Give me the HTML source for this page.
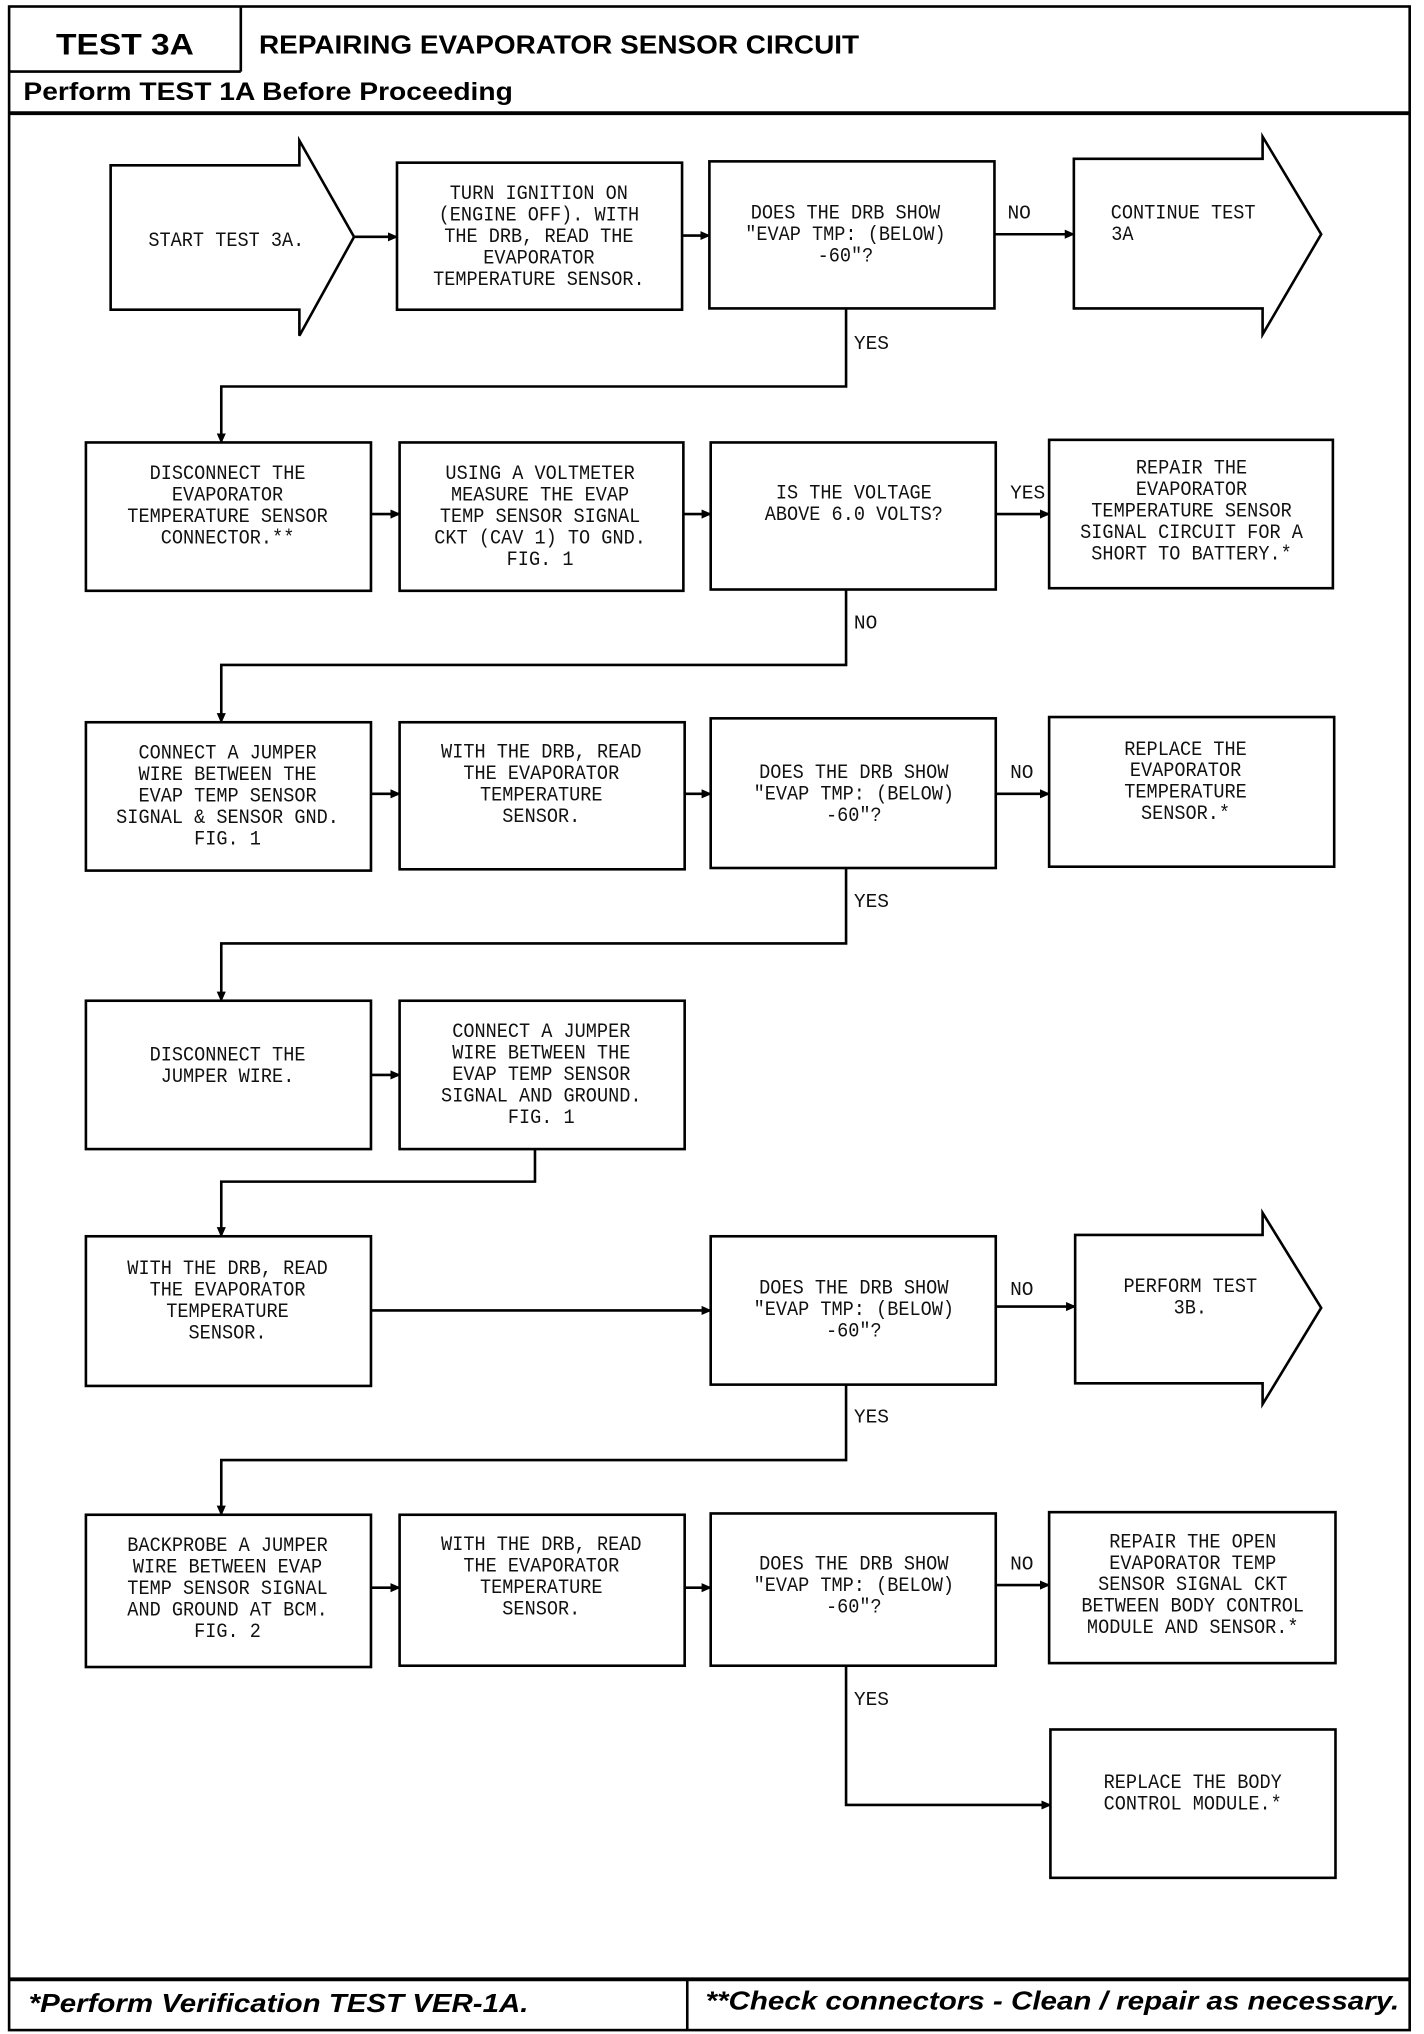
<!DOCTYPE html>
<html><head><meta charset="utf-8"><style>
html,body{margin:0;padding:0;background:#fff;}
svg{display:block;}
.t{font-family:"Liberation Mono",monospace;font-size:15.5px;fill:#111;text-anchor:middle;}
.l{font-family:"Liberation Mono",monospace;font-size:15px;fill:#111;}
.h{font-family:"Liberation Sans",sans-serif;font-weight:bold;fill:#000;}
</style></head><body>
<svg width="1424" height="2034" viewBox="0 0 1094 1563" preserveAspectRatio="none" xmlns="http://www.w3.org/2000/svg">
<defs><marker id="a" markerWidth="8" markerHeight="8" refX="7" refY="4" orient="auto" markerUnits="userSpaceOnUse"><path d="M0,0.5 L8,4 L0,7.5 z" fill="#000"/></marker></defs>
<g fill="none" stroke="#000" stroke-width="2">
<rect x="7" y="5" width="1076" height="1555"/>
<line x1="185" y1="5" x2="185" y2="55"/>
<line x1="7" y1="55" x2="185" y2="55"/>
<line x1="7" y1="87" x2="1083" y2="87" stroke-width="3"/>
<line x1="7" y1="1521" x2="1083" y2="1521" stroke-width="3"/>
<line x1="528" y1="1521" x2="528" y2="1560"/>
<path d="M85,127 H230 V108 L272,182 L230,258 V238 H85 Z"/>
<rect x="305" y="125" width="219" height="113"/>
<rect x="545" y="124" width="219" height="113"/>
<path d="M825,122 H970 V105 L1015,180 L970,257 V237 H825 Z"/>
<rect x="66" y="340" width="219" height="114"/>
<rect x="307" y="340" width="218" height="114"/>
<rect x="546" y="340" width="219" height="113"/>
<rect x="806" y="338" width="218" height="114"/>
<rect x="66" y="555" width="219" height="114"/>
<rect x="307" y="555" width="219" height="113"/>
<rect x="546" y="552" width="219" height="115"/>
<rect x="806" y="551" width="219" height="115"/>
<rect x="66" y="769" width="219" height="114"/>
<rect x="307" y="769" width="219" height="114"/>
<rect x="66" y="950" width="219" height="115"/>
<rect x="546" y="950" width="219" height="114"/>
<path d="M826,949 H970 V932 L1015,1005 L970,1079 V1063 H826 Z"/>
<rect x="66" y="1164" width="219" height="117"/>
<rect x="307" y="1164" width="219" height="116"/>
<rect x="546" y="1163" width="219" height="117"/>
<rect x="806" y="1162" width="220" height="116"/>
<rect x="807" y="1329" width="219" height="114"/>
</g>
<g fill="none" stroke="#000" stroke-width="2" marker-end="url(#a)">
<line x1="272" y1="182" x2="305" y2="182"/>
<line x1="524" y1="181" x2="545" y2="181"/>
<line x1="764" y1="180" x2="825" y2="180"/>
<polyline points="650,237 650,297 170,297 170,340"/>
<line x1="285" y1="395" x2="307" y2="395"/>
<line x1="525" y1="395" x2="546" y2="395"/>
<line x1="765" y1="395" x2="806" y2="395"/>
<polyline points="650,453 650,511 170,511 170,555"/>
<line x1="285" y1="610" x2="307" y2="610"/>
<line x1="526" y1="610" x2="546" y2="610"/>
<line x1="765" y1="610" x2="806" y2="610"/>
<polyline points="650,667 650,725 170,725 170,769"/>
<line x1="285" y1="826" x2="307" y2="826"/>
<polyline points="411,883 411,908 170,908 170,950"/>
<line x1="285" y1="1007" x2="546" y2="1007"/>
<line x1="765" y1="1004" x2="826" y2="1004"/>
<polyline points="650,1064 650,1122 170,1122 170,1164"/>
<line x1="285" y1="1220" x2="307" y2="1220"/>
<line x1="526" y1="1220" x2="546" y2="1220"/>
<line x1="765" y1="1218" x2="806" y2="1218"/>
<polyline points="650,1280 650,1387 807,1387"/>
</g>
<text class="h" x="43" y="42" font-size="23" textLength="106" lengthAdjust="spacingAndGlyphs">TEST 3A</text>
<text class="h" x="199" y="41" font-size="20" textLength="461" lengthAdjust="spacingAndGlyphs">REPAIRING EVAPORATOR SENSOR CIRCUIT</text>
<text class="h" x="18" y="77" font-size="19" textLength="376" lengthAdjust="spacingAndGlyphs">Perform TEST 1A Before Proceeding</text>
<text class="h" x="22" y="1546" font-size="20" font-style="italic" textLength="384" lengthAdjust="spacingAndGlyphs">*Perform Verification TEST VER-1A.</text>
<text class="h" x="542" y="1544" font-size="20" font-style="italic" textLength="533" lengthAdjust="spacingAndGlyphs">**Check connectors - Clean / repair as necessary.</text>
<g class="l">
<text x="774" y="168">NO</text>
<text x="656" y="268">YES</text>
<text x="776" y="383">YES</text>
<text x="656" y="483">NO</text>
<text x="776" y="598">NO</text>
<text x="656" y="697">YES</text>
<text x="776" y="995">NO</text>
<text x="656" y="1093">YES</text>
<text x="776" y="1206">NO</text>
<text x="656" y="1310">YES</text>
</g>
<g class="t" transform="scale(0.92,1)">
<text x="189" y="189">START TEST 3A.</text>
<text x="450" y="153"><tspan x="450">TURN IGNITION ON</tspan><tspan x="450" dy="16.5">(ENGINE OFF). WITH</tspan><tspan x="450" dy="16.5">THE DRB, READ THE</tspan><tspan x="450" dy="16.5">EVAPORATOR</tspan><tspan x="450" dy="16.5">TEMPERATURE SENSOR.</tspan></text>
<text x="706" y="168"><tspan x="706">DOES THE DRB SHOW</tspan><tspan x="706" dy="16.5">"EVAP TMP: (BELOW)</tspan><tspan x="706" dy="16.5">-60"?</tspan></text>
<text x="988" y="168"><tspan x="988">CONTINUE TEST</tspan><tspan x="928" dy="16.5" text-anchor="start">3A</tspan></text>
<text x="190" y="368"><tspan x="190">DISCONNECT THE</tspan><tspan x="190" dy="16.5">EVAPORATOR</tspan><tspan x="190" dy="16.5">TEMPERATURE SENSOR</tspan><tspan x="190" dy="16.5">CONNECTOR.**</tspan></text>
<text x="451" y="368"><tspan x="451">USING A VOLTMETER</tspan><tspan x="451" dy="16.5">MEASURE THE EVAP</tspan><tspan x="451" dy="16.5">TEMP SENSOR SIGNAL</tspan><tspan x="451" dy="16.5">CKT (CAV 1) TO GND.</tspan><tspan x="451" dy="16.5">FIG. 1</tspan></text>
<text x="713" y="383"><tspan x="713">IS THE VOLTAGE</tspan><tspan x="713" dy="16.5">ABOVE 6.0 VOLTS?</tspan></text>
<text x="995" y="364"><tspan x="995">REPAIR THE</tspan><tspan x="995" dy="16.5">EVAPORATOR</tspan><tspan x="995" dy="16.5">TEMPERATURE SENSOR</tspan><tspan x="995" dy="16.5">SIGNAL CIRCUIT FOR A</tspan><tspan x="995" dy="16.5">SHORT TO BATTERY.*</tspan></text>
<text x="190" y="583"><tspan x="190">CONNECT A JUMPER</tspan><tspan x="190" dy="16.5">WIRE BETWEEN THE</tspan><tspan x="190" dy="16.5">EVAP TEMP SENSOR</tspan><tspan x="190" dy="16.5">SIGNAL &amp; SENSOR GND.</tspan><tspan x="190" dy="16.5">FIG. 1</tspan></text>
<text x="452" y="582"><tspan x="452">WITH THE DRB, READ</tspan><tspan x="452" dy="16.5">THE EVAPORATOR</tspan><tspan x="452" dy="16.5">TEMPERATURE</tspan><tspan x="452" dy="16.5">SENSOR.</tspan></text>
<text x="713" y="598"><tspan x="713">DOES THE DRB SHOW</tspan><tspan x="713" dy="16.5">"EVAP TMP: (BELOW)</tspan><tspan x="713" dy="16.5">-60"?</tspan></text>
<text x="990" y="580"><tspan x="990">REPLACE THE</tspan><tspan x="990" dy="16.5">EVAPORATOR</tspan><tspan x="990" dy="16.5">TEMPERATURE</tspan><tspan x="990" dy="16.5">SENSOR.*</tspan></text>
<text x="190" y="815"><tspan x="190">DISCONNECT THE</tspan><tspan x="190" dy="16.5">JUMPER WIRE.</tspan></text>
<text x="452" y="797"><tspan x="452">CONNECT A JUMPER</tspan><tspan x="452" dy="16.5">WIRE BETWEEN THE</tspan><tspan x="452" dy="16.5">EVAP TEMP SENSOR</tspan><tspan x="452" dy="16.5">SIGNAL AND GROUND.</tspan><tspan x="452" dy="16.5">FIG. 1</tspan></text>
<text x="190" y="979"><tspan x="190">WITH THE DRB, READ</tspan><tspan x="190" dy="16.5">THE EVAPORATOR</tspan><tspan x="190" dy="16.5">TEMPERATURE</tspan><tspan x="190" dy="16.5">SENSOR.</tspan></text>
<text x="713" y="994"><tspan x="713">DOES THE DRB SHOW</tspan><tspan x="713" dy="16.5">"EVAP TMP: (BELOW)</tspan><tspan x="713" dy="16.5">-60"?</tspan></text>
<text x="994" y="993"><tspan x="994">PERFORM TEST</tspan><tspan x="994" dy="16.5">3B.</tspan></text>
<text x="190" y="1192"><tspan x="190">BACKPROBE A JUMPER</tspan><tspan x="190" dy="16.5">WIRE BETWEEN EVAP</tspan><tspan x="190" dy="16.5">TEMP SENSOR SIGNAL</tspan><tspan x="190" dy="16.5">AND GROUND AT BCM.</tspan><tspan x="190" dy="16.5">FIG. 2</tspan></text>
<text x="452" y="1191"><tspan x="452">WITH THE DRB, READ</tspan><tspan x="452" dy="16.5">THE EVAPORATOR</tspan><tspan x="452" dy="16.5">TEMPERATURE</tspan><tspan x="452" dy="16.5">SENSOR.</tspan></text>
<text x="713" y="1206"><tspan x="713">DOES THE DRB SHOW</tspan><tspan x="713" dy="16.5">"EVAP TMP: (BELOW)</tspan><tspan x="713" dy="16.5">-60"?</tspan></text>
<text x="996" y="1189"><tspan x="996">REPAIR THE OPEN</tspan><tspan x="996" dy="16.5">EVAPORATOR TEMP</tspan><tspan x="996" dy="16.5">SENSOR SIGNAL CKT</tspan><tspan x="996" dy="16.5">BETWEEN BODY CONTROL</tspan><tspan x="996" dy="16.5">MODULE AND SENSOR.*</tspan></text>
<text x="996" y="1374"><tspan x="996">REPLACE THE BODY</tspan><tspan x="996" dy="16.5">CONTROL MODULE.*</tspan></text>
</g>
</svg>
</body></html>
